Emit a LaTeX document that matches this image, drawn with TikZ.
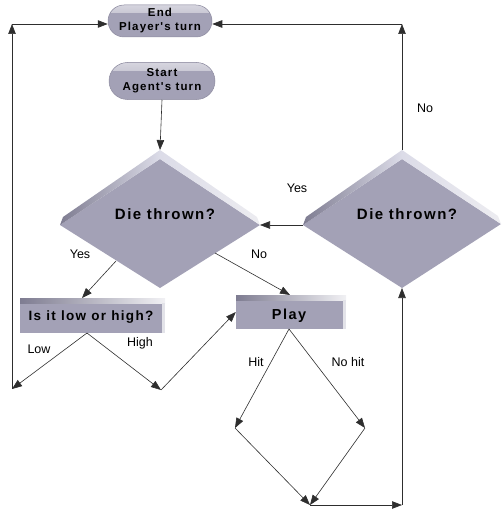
\documentclass[tikz,border=0pt]{standalone}
\usepackage{fontspec}
\setmainfont{Liberation Sans}
\newfontfamily\headfont[LetterSpace=10]{Liberation Sans}
\usetikzlibrary{arrows.meta,calc,shapes.misc}

\definecolor{face}{HTML}{A3A1B6}
\definecolor{bevel}{HTML}{DCDCE8}
\definecolor{bevdark}{HTML}{7E7C91}
\definecolor{rim}{HTML}{8E8CA0}
\definecolor{wire}{HTML}{2E2E2E}

\tikzset{
  wire/.style={draw=wire, line width=0.6pt, -{Triangle[length=10pt,width=7.5pt]}},
  lbl/.style={font=\fontsize{12.5}{14}\selectfont, inner sep=0pt},
  head/.style={font=\headfont\bfseries\fontsize{#1}{#1}\selectfont, text=black, inner sep=0pt, align=center},
  term/.style={rounded rectangle, fill=face, draw=rim, line width=0.5pt,
    align=center, inner sep=0pt, font=\headfont\bfseries\fontsize{11.5}{14}\selectfont,
    path picture={
      \shade[top color=white!55!face, bottom color=face]
        (path picture bounding box.north west) rectangle ([yshift=-8pt]path picture bounding box.north east);
    }},
  slab/.style={rectangle, fill=face, inner sep=0pt,
    path picture={
      \shade[left color=bevdark, right color=white!85!face]
        (path picture bounding box.north west) rectangle ([yshift=-5pt]path picture bounding box.north east);
      \fill[white!70!face]
        ([xshift=-3pt,yshift=-5pt]path picture bounding box.north east) rectangle (path picture bounding box.south east);
    }},
}

\begin{document}
\begin{tikzpicture}[x=1pt,y=-1pt]
\useasboundingbox (0,0) rectangle (502,511);

% ---- terminals ----
\node[term, minimum width=104pt, minimum height=32pt] (end) at (160,21) {End\\Player's turn};
\node[term, minimum width=106pt, minimum height=37pt] (start) at (162,81) {Start\\Agent's turn};

% ---- decision 1 (agent) ----
\coordinate (d1t) at (160,150);
\coordinate (d1f) at (160,159);
\coordinate (d1l) at (60,225);
\coordinate (d1r) at (260,225);
\coordinate (d1b) at (160,288);
\fill[face] (d1l) -- (d1f) -- (d1r) -- (d1b) -- cycle;
\shade[left color=bevdark, right color=bevel] (d1l) -- (63,217) -- (d1t) -- (d1f) -- cycle;
\shade[left color=bevel, right color=white!80!face] (d1t) -- (257,217) -- (d1r) -- (d1f) -- cycle;
\node[head=15] (q1) at (165,214) {Die thrown?};

% ---- decision 2 (player) ----
\coordinate (d2t) at (402,150);
\coordinate (d2f) at (402,159);
\coordinate (d2l) at (303,225);
\coordinate (d2r) at (501,224);
\coordinate (d2b) at (402,288);
\fill[face] (d2l) -- (d2f) -- (d2r) -- (d2b) -- cycle;
\shade[left color=bevdark, right color=bevel] (d2l) -- (306,217) -- (d2t) -- (d2f) -- cycle;
\shade[left color=bevel, right color=white!80!face] (d2t) -- (498,216) -- (d2r) -- (d2f) -- cycle;
\node[head=15] (q2) at (407,214) {Die thrown?};

% ---- process boxes ----
\node[slab, minimum width=145pt, minimum height=35pt] (lowhigh) at (92.5,315.5) {};
\node[head=13.5] at (91,317) {Is it low or high?};
\node[slab, minimum width=110pt, minimum height=34pt] (play) at (291,312) {};
\node[head=14.5] at (289,316) {Play};

% ---- junction points ----
\coordinate (low)   at (12,389);
\coordinate (lowup) at (12,24);
\coordinate (high)  at (161,390);
\coordinate (hit)   at (235,428);
\coordinate (nohit) at (365,428);
\coordinate (merge) at (310,505);
\coordinate (back)  at (402,505);
\coordinate (noup)  at (402,24);
\coordinate (fork)  at (87,333);
\coordinate (pfork) at (289,329);

% ---- connectors ----
\draw[wire] (start.south) -- (d1t);
\draw[wire] (d2l) -- (d1r);
\draw[wire] (d2t) -- (noup);
\draw[wire] (noup) -- (end.east |- noup);
\draw[wire] (116,261) -- (82,298);
\draw[wire] (215,253) -- (290,295);
\draw[wire] (fork) -- (low);
\draw[wire] (fork) -- (high);
\draw[wire] (high) -- (play.west);
\draw[wire] (low) -- (lowup);
\draw[wire] (lowup) -- (end.west |- lowup);
\draw[wire] (pfork) -- (hit);
\draw[wire] (pfork) -- (nohit);
\draw[wire] (hit) -- (merge);
\draw[wire] (nohit) -- (merge);
\draw[wire] (merge) -- (back);
\draw[wire] (back) -- (d2b);

% ---- labels ----
\node[lbl] at (297,188) {Yes};
\node[lbl] at (425,108) {No};
\node[lbl] at (80,254) {Yes};
\node[lbl] at (259,254) {No};
\node[lbl] at (39,349) {Low};
\node[lbl] at (140,343) {High};
\node[lbl] at (256,362) {Hit};
\node[lbl] at (348,362) {No hit};
\end{tikzpicture}
\end{document}
